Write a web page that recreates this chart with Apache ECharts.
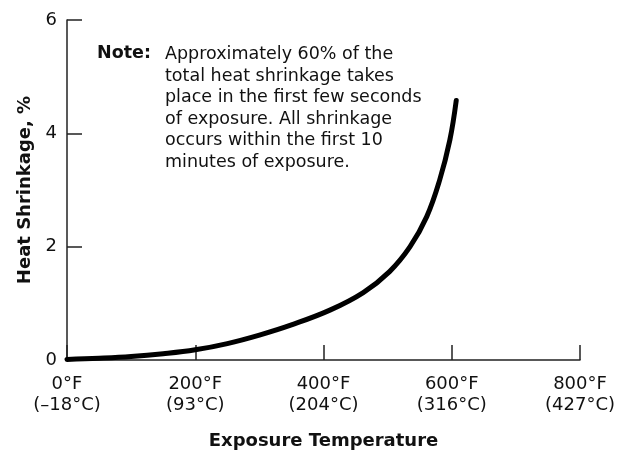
<!DOCTYPE html>
<html>
<head>
<meta charset="utf-8">
<script src="https://cdn.jsdelivr.net/npm/echarts@6/dist/echarts.min.js"></script>
<style>html,body{margin:0;padding:0;background:#fff;}#c{width:619px;height:453px;}</style>
</head>
<body>
<div id="c"></div>
<script>
// Data
var tempF = [0, 50, 100, 150, 200, 250, 300, 350, 410, 462, 503, 535, 561, 581, 597, 607];
var shrinkage = [0.01, 0.03, 0.06, 0.11, 0.18, 0.29, 0.44, 0.62, 0.88, 1.19, 1.56, 2.00, 2.53, 3.17, 3.88, 4.58];
var xTickF = ['0°F', '200°F', '400°F', '600°F', '800°F'];
var xTickC = ['(–18°C)', '(93°C)', '(204°C)', '(316°C)', '(427°C)'];
var xTickValues = [0, 200, 400, 600, 800];
var yTicks = [0, 2, 4, 6];
var noteLabel = 'Note:';
var noteLines = ['Approximately 60% of the', 'total heat shrinkage takes', 'place in the first few seconds', 'of exposure. All shrinkage', 'occurs within the first 10', 'minutes of exposure.'];
var xTitle = 'Exposure Temperature';
var yTitle = 'Heat Shrinkage, %';

var FONT = 'DejaVu Sans';
var chart = echarts.init(document.getElementById('c'), null, {renderer: 'canvas'});
var points = tempF.map(function (t, i) { return [t, shrinkage[i]]; });
var axisColor = '#222';

chart.setOption({
  animation: false,
  backgroundColor: '#fff',
  grid: {left: 67, right: 39, top: 20, bottom: 93, containLabel: false, outerBoundsMode: 'none'},
  xAxis: {
    type: 'value', min: 0, max: 800, interval: 200,
    name: xTitle, nameLocation: 'middle', nameGap: 72,
    nameTextStyle: {fontFamily: FONT, fontWeight: 'bold', fontSize: 18, color: '#111'},
    axisLine: {show: true, onZero: false, lineStyle: {color: axisColor, width: 1.5}},
    axisTick: {show: true, inside: true, length: 15, lineStyle: {color: axisColor, width: 1.5}},
    splitLine: {show: false},
    axisLabel: {
      margin: 14, fontFamily: FONT, fontSize: 18, color: '#111', lineHeight: 21,
      formatter: function (v) {
        var i = xTickValues.indexOf(v);
        return i < 0 ? '' : xTickF[i] + '\n' + xTickC[i];
      }
    }
  },
  yAxis: {
    type: 'value', min: 0, max: 6, interval: 2,
    name: yTitle, nameLocation: 'middle', nameGap: 30, nameRotate: 90,
    nameTextStyle: {fontFamily: FONT, fontWeight: 'bold', fontSize: 18, color: '#111'},
    axisLine: {show: true, lineStyle: {color: axisColor, width: 1.5}},
    axisTick: {show: true, inside: true, length: 15, lineStyle: {color: axisColor, width: 1.5}},
    splitLine: {show: false},
    axisLabel: {
      margin: 10, fontFamily: FONT, fontSize: 18, color: '#111',
      formatter: function (v) { return yTicks.indexOf(v) < 0 ? '' : String(v); }
    }
  },
  series: [{
    type: 'line', data: points, smooth: 0.4, showSymbol: false,
    lineStyle: {color: '#000', width: 5, cap: 'round', join: 'round'},
    z: 3
  }],
  graphic: [
    {type: 'text', left: 97, top: 44, style: {text: noteLabel, font: 'bold 17.5px "DejaVu Sans"', fill: '#111'}},
    {type: 'text', left: 165, top: 44, style: {text: noteLines.join('\n'), font: '17.5px "DejaVu Sans"', lineHeight: 21.5, fill: '#111'}}
  ]
});
</script>
</body>
</html>
